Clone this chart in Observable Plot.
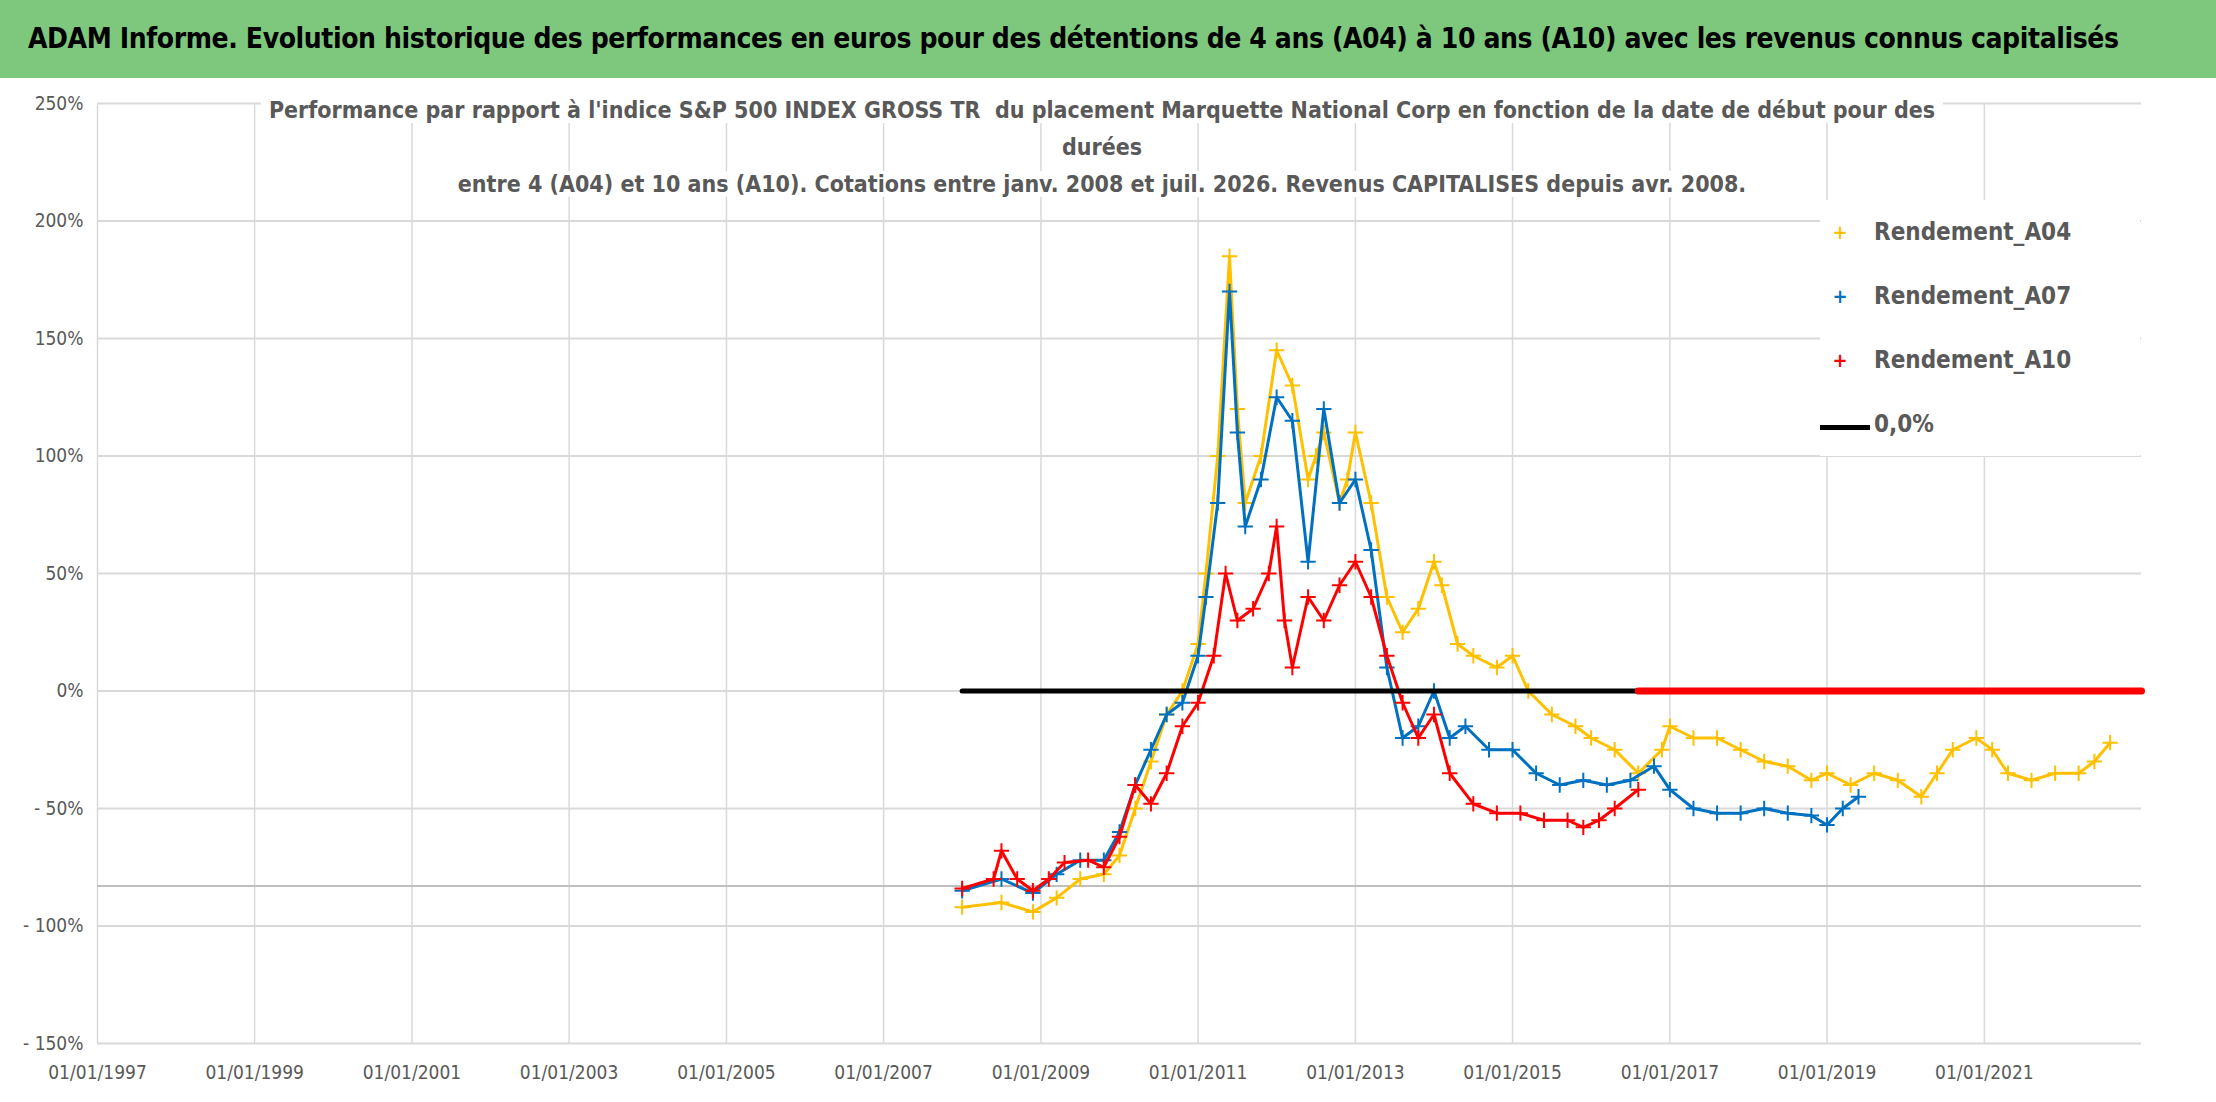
<!DOCTYPE html>
<html><head><meta charset="utf-8">
<script src="https://cdn.jsdelivr.net/npm/d3@7"></script>
<script src="https://cdn.jsdelivr.net/npm/@observablehq/plot@0.6"></script>
<style>
body{margin:0;background:#fff;font-family:"DejaVu Sans Condensed","Liberation Sans Narrow",sans-serif;}
#wrap{position:relative;width:2216px;height:1102px;overflow:hidden;}
#title{position:absolute;left:0;top:0;width:2216px;height:78px;background:#7dc87d;color:#000;font-weight:bold;font-size:28px;line-height:78px;text-indent:28px;white-space:nowrap;letter-spacing:-0.4px;}
#sub{position:absolute;left:200px;width:1804px;top:92px;text-align:center;color:#595959;font-weight:bold;font-size:23px;line-height:37px;white-space:nowrap;}
#sub span{background:#fff;padding:0 8px;}
#legend{position:absolute;left:1820px;top:200px;width:320px;background:#fff;color:#595959;font-weight:bold;font-size:24px;}
.li{height:64px;display:flex;align-items:center;}
.sym{width:40px;text-align:center;font-size:20px;margin-right:14px;}
#chart{position:absolute;left:0;top:78px;}
</style></head><body>
<div id="wrap">
<div id="title">ADAM Informe. Evolution historique des performances en euros pour des détentions de 4 ans (A04) à 10 ans (A10) avec les revenus connus capitalisés</div>
<div id="chart"></div>
<div id="sub"><span>Performance par rapport à l'indice S&amp;P 500 INDEX GROSS TR&nbsp; du placement Marquette National Corp en fonction de la date de début pour des</span><br><span>durées</span><br><span>entre 4 (A04) et 10 ans (A10). Cotations entre janv. 2008 et juil. 2026. Revenus CAPITALISES depuis avr. 2008.</span></div>
<div id="legend">
<div class="li"><span class="sym" style="color:#ffc000">+</span>Rendement_A04</div>
<div class="li"><span class="sym" style="color:#0070c0">+</span>Rendement_A07</div>
<div class="li"><span class="sym" style="color:#ff0000">+</span>Rendement_A10</div>
<div class="li"><span class="sym"><svg width="50" height="6"><rect width="50" height="5" fill="#000"/></svg></span>0,0%</div>
</div>
</div>
<script>
const a04Years=[2008.0,2008.5,2008.9,2009.2,2009.5,2009.8,2010.0,2010.2,2010.4,2010.6,2010.8,2011.0,2011.1,2011.25,2011.4,2011.5,2011.6,2011.8,2012.0,2012.2,2012.4,2012.5,2012.6,2012.8,2012.9,2013.0,2013.2,2013.4,2013.6,2013.8,2014.0,2014.1,2014.3,2014.5,2014.8,2015.0,2015.2,2015.5,2015.8,2016.0,2016.3,2016.6,2016.9,2017.0,2017.3,2017.6,2017.9,2018.2,2018.5,2018.8,2019.0,2019.3,2019.6,2019.9,2020.2,2020.4,2020.6,2020.9,2021.1,2021.3,2021.6,2021.9,2022.2,2022.4,2022.6];
const a04Values=[-92,-90,-94,-88,-80,-78,-70,-50,-30,-10,0,20,50,100,185,120,80,100,145,130,90,100,110,80,90,110,80,40,25,35,55,45,20,15,10,15,0,-10,-15,-20,-25,-35,-25,-15,-20,-20,-25,-30,-32,-38,-35,-40,-35,-38,-45,-35,-25,-20,-25,-35,-38,-35,-35,-30,-22];
const a07Years=[2008.0,2008.5,2008.9,2009.2,2009.5,2009.8,2010.0,2010.2,2010.4,2010.6,2010.8,2011.0,2011.1,2011.25,2011.4,2011.5,2011.6,2011.8,2012.0,2012.2,2012.4,2012.6,2012.8,2013.0,2013.2,2013.4,2013.6,2013.8,2014.0,2014.2,2014.4,2014.7,2015.0,2015.3,2015.6,2015.9,2016.2,2016.5,2016.8,2017.0,2017.3,2017.6,2017.9,2018.2,2018.5,2018.8,2019.0,2019.2,2019.4];
const a07Values=[-85,-80,-86,-78,-72,-72,-60,-40,-25,-10,-5,15,40,80,170,110,70,90,125,115,55,120,80,90,60,10,-20,-15,0,-20,-15,-25,-25,-35,-40,-38,-40,-38,-32,-42,-50,-52,-52,-50,-52,-53,-57,-50,-45];
const a10Years=[2008.0,2008.4,2008.5,2008.7,2008.9,2009.1,2009.3,2009.6,2009.8,2010.0,2010.2,2010.4,2010.6,2010.8,2011.0,2011.2,2011.35,2011.5,2011.7,2011.9,2012.0,2012.1,2012.2,2012.4,2012.6,2012.8,2013.0,2013.2,2013.4,2013.6,2013.8,2014.0,2014.2,2014.5,2014.8,2015.1,2015.4,2015.7,2015.9,2016.1,2016.3,2016.6];
const a10Values=[-84,-80,-68,-80,-85,-80,-73,-72,-75,-62,-40,-48,-35,-15,-5,15,50,30,35,50,70,30,10,40,30,45,55,40,15,-5,-20,-10,-35,-48,-52,-52,-55,-55,-58,-55,-50,-42];
const zeroBlack=[2008.0,2016.6];
const zeroRed=[2016.6,2023.0];
const yTicks=[-150,-100,-50,0,50,100,150,200,250];
const yTickLabels=["- 150%","- 100%","- 50%","0%","50%","100%","150%","200%","250%"];
const xTickYears=[1997,1999,2001,2003,2005,2007,2009,2011,2013,2015,2017,2019,2021];

const toDate=y=>{const yr=Math.floor(y);return new Date(Date.UTC(yr,0,1)+(y-yr)*365.25*864e5);};
const mk=(ys,vs)=>ys.map((y,i)=>({d:toDate(y),v:vs[i]}));
const s04=mk(a04Years,a04Values),s07=mk(a07Years,a07Values),s10=mk(a10Years,a10Values);
const zb=zeroBlack.map(y=>({d:toDate(y),v:0})),zr=zeroRed.map(y=>({d:toDate(y),v:0}));
const layer=(s,c)=>[Plot.line(s,{x:"d",y:"v",stroke:c,strokeWidth:3,curve:"linear"}),
  Plot.dot(s,{x:"d",y:"v",symbol:"plus",r:5,stroke:c,strokeWidth:2})];
const plot=Plot.plot({
  width:2216,height:1024,marginLeft:97,marginRight:75,marginTop:25,marginBottom:59,
  style:{fontFamily:"'DejaVu Sans Condensed',sans-serif",fontSize:"19px",color:"#595959"},
  x:{type:"utc",domain:[toDate(1997),toDate(2023)],ticks:xTickYears.map(y=>toDate(y)),tickFormat:d3.utcFormat("%d/%m/%Y"),tickSize:0,tickPadding:22,label:null},
  y:{domain:[-150,250],ticks:yTicks,tickFormat:d=>yTickLabels[yTicks.indexOf(d)],tickSize:0,tickPadding:14,label:null},
  marks:[
    Plot.gridX(xTickYears.map(y=>toDate(y)),{stroke:"#d9d9d9",strokeOpacity:1,strokeWidth:1.5}),
    Plot.gridY(yTicks,{stroke:"#d9d9d9",strokeOpacity:1,strokeWidth:2}),
    Plot.ruleY([-83],{stroke:"#bfbfbf",strokeWidth:2}),
    ...layer(s04,"#ffc000"),...layer(s07,"#0070c0"),...layer(s10,"#ff0000"),
    Plot.line(zb,{x:"d",y:"v",stroke:"#000",strokeWidth:5}),
    Plot.line(zr,{x:"d",y:"v",stroke:"#ff0000",strokeWidth:7})
  ]
});
document.getElementById("chart").appendChild(plot);
</script>
</body></html>
